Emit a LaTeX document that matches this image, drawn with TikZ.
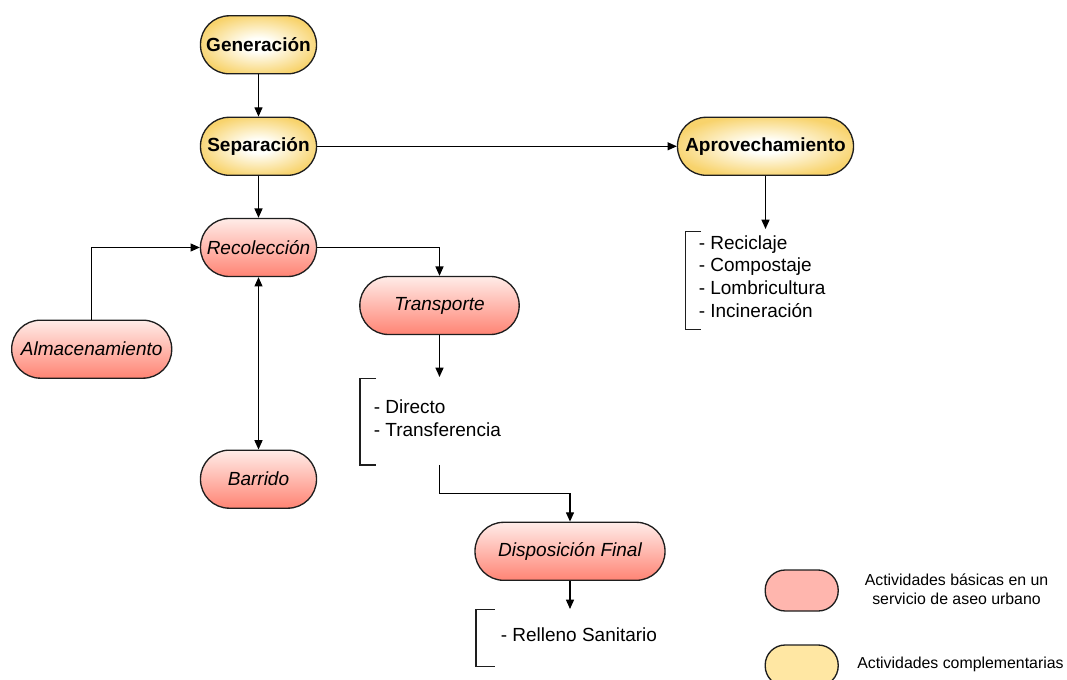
\documentclass[tikz,border=0pt]{standalone}
\usepackage{fontspec}
\setmainfont{Liberation Sans}
\usetikzlibrary{arrows.meta}
\definecolor{redtop}{RGB}{255,236,232}
\definecolor{redbot}{RGB}{255,132,116}
\definecolor{yelin}{RGB}{255,255,250}
\definecolor{yelout}{RGB}{248,211,108}
\definecolor{legred}{RGB}{255,182,174}
\definecolor{legyel}{RGB}{255,231,163}
\definecolor{edge}{RGB}{30,30,30}
% soft radial fill: white centre fading to the outer colour at the rim
\pgfdeclareradialshading{softglow}{\pgfpoint{0bp}{0bp}}{%
  color(0bp)=(yelin); color(6bp)=(yelin); color(27bp)=(yelout); color(50bp)=(yelout)}
\tikzset{
  x=0.75pt, y=-0.75pt,
  box/.style={draw=edge, line width=1pt, rounded corners=21.5pt,
    minimum height=43.5pt, inner sep=0pt,
    font=\fontsize{14.25}{17}\selectfont},
  basic/.style={box, top color=redtop, bottom color=redbot, font=\fontsize{14.25}{17}\selectfont\itshape},
  extra/.style={box, shading=softglow, font=\fontsize{14.25}{17}\selectfont\bfseries},
  arr/.style={draw=black, line width=1pt, -{Triangle[length=7pt,width=6pt]}},
  dbl/.style={draw=black, line width=1pt, {Triangle[length=7pt,width=6pt]}-{Triangle[length=7pt,width=6pt]}},
  brk/.style={draw=edge, line width=1pt},
  item/.style={anchor=base west, inner sep=0pt, font=\fontsize{14.25}{17}\selectfont},
  legbox/.style={draw=edge, line width=1pt, rounded corners=15pt,
    minimum width=54.75pt, minimum height=30.75pt, inner sep=0pt},
  legtext/.style={inner sep=0pt, font=\fontsize{11.9}{14.2}\selectfont}
}
\begin{document}
\begin{tikzpicture}
\useasboundingbox (0,0) rectangle (1067,680);

% process stages
\node[extra, minimum width=87pt] (gen) at (258.5,44.8) {Generación};
\node[extra, minimum width=87pt] (sep) at (258.5,146.3) {Separación};
\node[extra, minimum width=132pt] (apr) at (765.5,146.3) {Aprovechamiento};
\node[basic, minimum width=87pt] (rec) at (258.5,247.5) {Recolección};
\node[basic, minimum width=119.5pt] (tra) at (439.5,305.5) {Transporte};
\node[basic, minimum width=120pt] (alm) at (91.7,349.2) {Almacenamiento};
\node[basic, minimum width=87pt] (bar) at (258.5,479.2) {Barrido};
\node[basic, minimum width=142.5pt] (dis) at (570,551.3) {Disposición Final};

% free ends of the connectors
\coordinate (aprEnd) at (765.5,229);
\coordinate (traEnd) at (439.5,377);
\coordinate (traOut) at (439.5,465);
\coordinate (disEnd) at (570,609);

% connectors
\draw[arr] (gen.south) -- (sep.north);
\draw[arr] (sep.east) -- (apr.west);
\draw[arr] (sep.south) -- (rec.north);
\draw[arr] (alm.north) |- (rec.west);
\draw[arr] (rec.east) -| (tra.north);
\draw[dbl] (bar.north) -- (rec.south);
\draw[arr] (apr.south) -- (aprEnd);
\draw[arr] (tra.south) -- (traEnd);
\draw[arr] (traOut) -- ++(0,28.3) -| (dis.north);
\draw[arr] (dis.south) -- (disEnd);

% option lists with brackets
\draw[brk] (701,231.7) -- (685.5,231.7) -- (685.5,329.5) -- (701,329.5);
\node[item] (r1) at (698.5,249.3) {- Reciclaje};
\node[item] (r2) at (698.5,272) {- Compostaje};
\node[item] (r3) at (698.5,294.7) {- Lombricultura};
\node[item] (r4) at (698.5,317.4) {- Incineración};

\draw[brk] (376,378.3) -- (360,378.3) -- (360,465) -- (376,465);
\node[item] (t1) at (373.5,413.3) {- Directo};
\node[item] (t2) at (373.5,436.5) {- Transferencia};

\draw[brk] (494.5,609.5) -- (476,609.5) -- (476,666.8) -- (494.5,666.8);
\node[item] (d1) at (500.5,641.7) {- Relleno Sanitario};

% legend
\node[legbox, fill=legred] (lr) at (801.7,590.5) {};
\node[legbox, fill=legyel] (ly) at (801.7,665.5) {};
\node[legtext, align=center] (lrt) at (956.5,589.5) {Actividades básicas en un\\servicio de aseo urbano};
\node[legtext, anchor=base west] (lyt) at (857,668) {Actividades complementarias};
\end{tikzpicture}
\end{document}
